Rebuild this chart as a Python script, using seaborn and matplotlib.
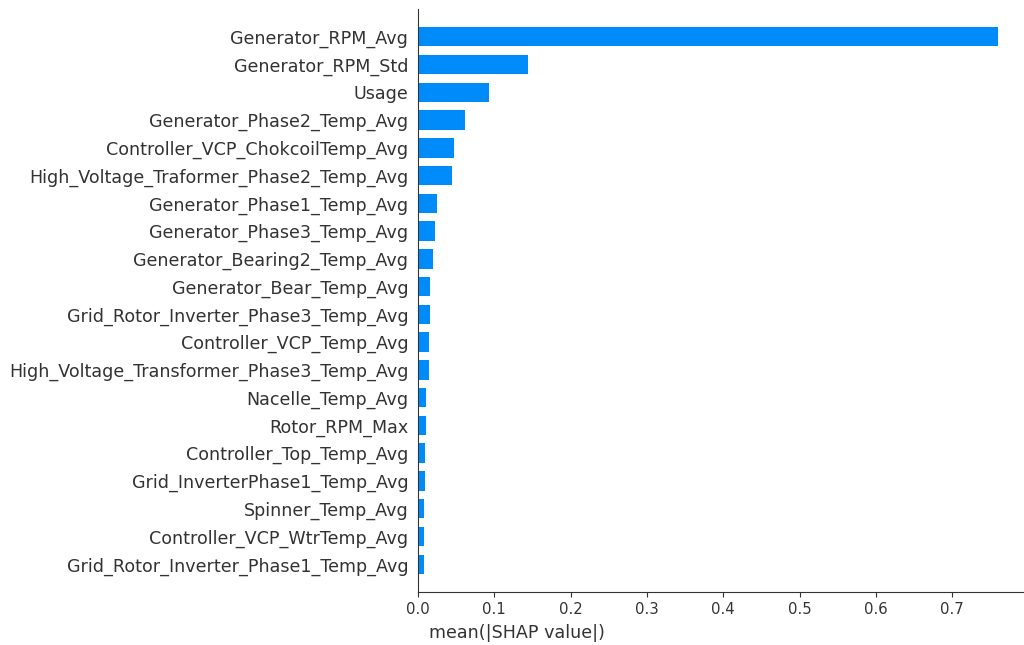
import matplotlib
matplotlib.use("Agg")
import matplotlib.pyplot as plt
import seaborn as sns
import pandas as pd

features = [
    "Generator_RPM_Avg",
    "Generator_RPM_Std",
    "Usage",
    "Generator_Phase2_Temp_Avg",
    "Controller_VCP_ChokcoilTemp_Avg",
    "High_Voltage_Traformer_Phase2_Temp_Avg",
    "Generator_Phase1_Temp_Avg",
    "Generator_Phase3_Temp_Avg",
    "Generator_Bearing2_Temp_Avg",
    "Generator_Bear_Temp_Avg",
    "Grid_Rotor_Inverter_Phase3_Temp_Avg",
    "Controller_VCP_Temp_Avg",
    "High_Voltage_Transformer_Phase3_Temp_Avg",
    "Nacelle_Temp_Avg",
    "Rotor_RPM_Max",
    "Controller_Top_Temp_Avg",
    "Grid_InverterPhase1_Temp_Avg",
    "Spinner_Temp_Avg",
    "Controller_VCP_WtrTemp_Avg",
    "Grid_Rotor_Inverter_Phase1_Temp_Avg",
]
mean_abs_shap = [
    0.760, 0.144, 0.093, 0.062, 0.047, 0.045, 0.025, 0.022, 0.019, 0.016,
    0.016, 0.015, 0.015, 0.011, 0.010, 0.0088, 0.0088, 0.0075, 0.0075, 0.0075,
]

axis_color = "#333333"
bar_color = "#008bfb"

df = pd.DataFrame({"feature": features, "value": mean_abs_shap})

sns.set_style("white")
plt.rcParams["font.family"] = ["DejaVu Sans"]

fig = plt.figure(figsize=(10.24, 6.45), dpi=100)
ax = fig.add_axes([418 / 1024, 1 - 592 / 645, 609 / 1024, 583 / 645])

sns.barplot(data=df, x="value", y="feature", orient="h", color=bar_color,
            saturation=1, width=0.7, ax=ax, edgecolor="none")

ax.set_ylim(len(features), -1)
ax.set_xlim(0, mean_abs_shap[0] * 1.05)
ax.set_xticks([0.0, 0.1, 0.2, 0.3, 0.4, 0.5, 0.6, 0.7])
ax.set_ylabel("")
ax.set_xlabel("mean(|SHAP value|)", fontsize=12.6, color=axis_color)
# label sits left of the axes centre in the original
ax.xaxis.set_label_coords(0.163, -0.055)

ax.spines["right"].set_visible(False)
ax.spines["top"].set_visible(False)
ax.spines["left"].set_color(axis_color)
ax.spines["bottom"].set_color(axis_color)
ax.spines["left"].set_linewidth(0.8)
ax.spines["bottom"].set_linewidth(0.8)

ax.tick_params(axis="y", left=False, labelsize=12.6, labelcolor=axis_color, length=3.5)
ax.tick_params(axis="x", bottom=True, labelsize=10.7, labelcolor=axis_color,
               color=axis_color, length=3.5, width=0.8)

fig.savefig("out.png", dpi=100)
